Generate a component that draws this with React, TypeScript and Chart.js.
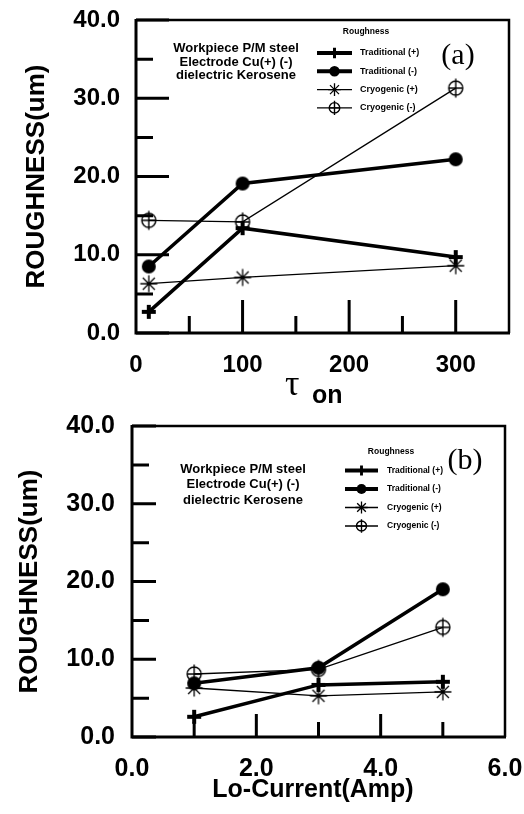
import React, { useEffect, useRef } from "react";
import { Chart, registerables } from "chart.js";

Chart.register(...registerables);

// ---------- data ----------
const seriesNames = ["Traditional (+)", "Traditional (-)", "Cryogenic (+)", "Cryogenic (-)"];
const legendTitle = "Roughness";
const noteLines = ["Workpiece P/M steel", "Electrode Cu(+) (-)", "dielectric Kerosene"];
const yTitle = "ROUGHNESS(um)";
const topXTitleMain = "τ";
const topXTitleSub = "on";
const bottomXTitle = "Lo-Current(Amp)";
const topTag = "(a)";
const bottomTag = "(b)";

const tauOn = [12, 100, 300];
const topTradPlus = [2.7, 13.4, 9.7];
const topTradMinus = [8.5, 19.1, 22.2];
const topCryoPlus = [6.3, 7.1, 8.6];
const topCryoMinus = [14.4, 14.2, 31.3];

const loCurrent = [1, 3, 5];
const botTradPlus = [2.6, 6.7, 7.1];
const botTradMinus = [6.9, 8.9, 19.0];
const botCryoPlus = [6.3, 5.3, 5.8];
const botCryoMinus = [8.1, 8.7, 14.1];

const yMajorTicks = [0, 10, 20, 30, 40];
const yMinorTicks = [5, 15, 25, 35];
const topXMajorTicks = [100, 200, 300];
const topXMinorTicks = [50, 150, 250];
const botXMajorTicks = [2, 4];
const botXMinorTicks = [1, 3, 5];

// ---------- styling helpers ----------
const SANS = "'Liberation Sans', Arial, sans-serif";
const SERIF = "'Liberation Serif', 'Times New Roman', serif";
type Kind = "plus" | "dot" | "star" | "oplus";
const kinds: Kind[] = ["plus", "dot", "star", "oplus"];
const lineWidths = [3.5, 3.5, 1.3, 1.3];

function drawMarker(ctx: CanvasRenderingContext2D, kind: Kind, x: number, y: number, s: number) {
  ctx.save();
  ctx.strokeStyle = "#000";
  ctx.fillStyle = "#000";
  ctx.lineCap = "butt";
  if (kind === "plus") {
    ctx.lineWidth = 4 * s;
    const a = 7 * s;
    ctx.beginPath();
    ctx.moveTo(x - a, y);
    ctx.lineTo(x + a, y);
    ctx.moveTo(x, y - a);
    ctx.lineTo(x, y + a);
    ctx.stroke();
  } else if (kind === "dot") {
    ctx.beginPath();
    ctx.arc(x, y, 7 * s, 0, Math.PI * 2);
    ctx.fill();
  } else if (kind === "star") {
    ctx.lineWidth = 1.3;
    const r = 8.5 * s;
    ctx.beginPath();
    for (let i = 0; i < 4; i++) {
      const ang = (i * Math.PI) / 4;
      const dx = Math.cos(ang) * r;
      const dy = Math.sin(ang) * r;
      ctx.moveTo(x - dx, y - dy);
      ctx.lineTo(x + dx, y + dy);
    }
    ctx.stroke();
  } else {
    ctx.lineWidth = 1.4;
    ctx.beginPath();
    ctx.arc(x, y, 7 * s, 0, Math.PI * 2);
    ctx.moveTo(x, y - 9.5 * s);
    ctx.lineTo(x, y + 9.5 * s);
    ctx.moveTo(x - 7 * s, y);
    ctx.lineTo(x + 7 * s, y);
    ctx.stroke();
  }
  ctx.restore();
}

function markerCanvas(kind: Kind) {
  const c = document.createElement("canvas");
  c.width = 24;
  c.height = 24;
  const ctx = c.getContext("2d")!;
  drawMarker(ctx, kind, 12, 12, 1);
  return c;
}

type Decor = {
  xMajor: number[];
  xMinor: number[];
  xMajorLen: number;
  xMinorLen: number;
  yMajorLen: number;
  yMinorLen: number;
  yTitleX: number;
  yTitleFont: number;
  note: { x: number; y: number; dy: number; font: number };
  legend: { titleX: number; titleY: number; titleFont: number; x0: number; x1: number; textX: number; y0: number; dy: number; font: number; ms: number };
  tag: { text: string; x: number; y: number; font: number };
  xTitle: (ctx: CanvasRenderingContext2D, chart: any) => void;
};

function makeDecor(d: Decor) {
  return {
    id: "decor",
    afterDraw(chart: any) {
      const ctx: CanvasRenderingContext2D = chart.ctx;
      const { left, right, top, bottom } = chart.chartArea;
      const xs = chart.scales.x;
      const ys = chart.scales.y;
      ctx.save();
      ctx.strokeStyle = "#000";
      ctx.fillStyle = "#000";
      // frame
      ctx.lineWidth = 2.5;
      ctx.beginPath();
      ctx.moveTo(left, top);
      ctx.lineTo(right, top);
      ctx.lineTo(right, bottom);
      ctx.stroke();
      ctx.lineWidth = 3;
      ctx.beginPath();
      ctx.moveTo(left, top - 1);
      ctx.lineTo(left, bottom);
      ctx.lineTo(right + 1, bottom);
      ctx.stroke();
      // inward ticks
      ctx.lineWidth = 3;
      ctx.beginPath();
      yMajorTicks.forEach((v) => {
        const p = ys.getPixelForValue(v);
        ctx.moveTo(left, p);
        ctx.lineTo(left + d.yMajorLen, p);
      });
      yMinorTicks.forEach((v) => {
        const p = ys.getPixelForValue(v);
        ctx.moveTo(left, p);
        ctx.lineTo(left + d.yMinorLen, p);
      });
      d.xMajor.forEach((v) => {
        const p = xs.getPixelForValue(v);
        ctx.moveTo(p, bottom);
        ctx.lineTo(p, bottom - d.xMajorLen);
      });
      d.xMinor.forEach((v) => {
        const p = xs.getPixelForValue(v);
        ctx.moveTo(p, bottom);
        ctx.lineTo(p, bottom - d.xMinorLen);
      });
      ctx.stroke();

      // y title
      ctx.save();
      ctx.translate(d.yTitleX, (top + bottom) / 2);
      ctx.rotate(-Math.PI / 2);
      ctx.font = `bold ${d.yTitleFont}px ${SANS}`;
      ctx.textAlign = "center";
      ctx.textBaseline = "middle";
      ctx.fillText(yTitle, 0, 0);
      ctx.restore();

      // x title
      d.xTitle(ctx, chart);

      // note
      ctx.font = `bold ${d.note.font}px ${SANS}`;
      ctx.textAlign = "center";
      ctx.textBaseline = "middle";
      noteLines.forEach((t, i) => ctx.fillText(t, d.note.x, d.note.y + i * d.note.dy));

      // legend
      const L = d.legend;
      ctx.font = `bold ${L.titleFont}px ${SANS}`;
      ctx.textAlign = "center";
      ctx.fillText(legendTitle, L.titleX, L.titleY);
      ctx.font = `bold ${L.font}px ${SANS}`;
      ctx.textAlign = "left";
      seriesNames.forEach((name, i) => {
        const y = L.y0 + i * L.dy;
        ctx.lineWidth = lineWidths[i] + (i < 2 ? 0.5 : 0);
        ctx.beginPath();
        ctx.moveTo(L.x0, y);
        ctx.lineTo(L.x1, y);
        ctx.stroke();
        drawMarker(ctx, kinds[i], (L.x0 + L.x1) / 2, y, L.ms);
        ctx.fillText(name, L.textX, y);
      });

      // tag
      ctx.font = `${d.tag.font}px ${SERIF}`;
      ctx.textAlign = "center";
      ctx.textBaseline = "middle";
      ctx.fillText(d.tag.text, d.tag.x, d.tag.y);
      ctx.restore();
    },
  };
}

function makeDatasets(xs: number[], series: number[][]) {
  return series.map((vals, i) => ({
    label: seriesNames[i],
    data: vals.map((v, j) => ({ x: xs[j], y: v })),
    borderColor: "#000",
    backgroundColor: "#000",
    borderWidth: lineWidths[i],
    pointStyle: markerCanvas(kinds[i]),
    pointRadius: 6,
    tension: 0,
    fill: false,
  }));
}

function scaleOpts(p: {
  xmin: number; xmax: number; xstep: number; xfmt: (v: number) => string; xPad: number; xFont: number; xHeight: number;
  yPad: number; yFont: number; yWidth: number;
}) {
  return {
    x: {
      type: "linear",
      min: p.xmin,
      max: p.xmax,
      grid: { display: false, drawTicks: false },
      border: { display: false },
      ticks: {
        stepSize: p.xstep,
        includeBounds: false,
        autoSkip: false,
        maxRotation: 0,
        padding: p.xPad,
        color: "#000",
        font: { family: SANS, size: p.xFont, weight: "bold" },
        callback: (v: any) => p.xfmt(Number(v)),
      },
      afterFit: (s: any) => {
        s.height = p.xHeight;
        s.paddingLeft = 0;
        s.paddingRight = 0;
      },
    },
    y: {
      type: "linear",
      min: 0,
      max: 40,
      grid: { display: false, drawTicks: false },
      border: { display: false },
      ticks: {
        stepSize: 10,
        autoSkip: false,
        padding: p.yPad,
        color: "#000",
        font: { family: SANS, size: p.yFont, weight: "bold" },
        callback: (v: any) => Number(v).toFixed(1),
      },
      afterFit: (s: any) => {
        s.width = p.yWidth;
        s.paddingTop = 0;
        s.paddingBottom = 0;
      },
    },
  };
}

const TOP_H = 410;
const BOT_H = 404;

function topConfig(): any {
  return {
    type: "line",
    data: { datasets: makeDatasets(tauOn, [topTradPlus, topTradMinus, topCryoPlus, topCryoMinus]) },
    options: {
      responsive: false,
      animation: false,
      events: [],
      layout: { padding: { left: 0, top: 20, right: 15, bottom: 0 } },
      plugins: { legend: { display: false }, tooltip: { enabled: false } },
      scales: scaleOpts({
        xmin: 0, xmax: 350, xstep: 100, xfmt: (v) => String(v), xPad: 18, xFont: 24, xHeight: TOP_H - 333,
        yPad: 16, yFont: 24, yWidth: 136,
      }),
    },
    plugins: [
      makeDecor({
        xMajor: topXMajorTicks,
        xMinor: topXMinorTicks,
        xMajorLen: 33,
        xMinorLen: 17,
        yMajorLen: 33,
        yMinorLen: 17,
        yTitleX: 37,
        yTitleFont: 26,
        note: { x: 236, y: 48.5, dy: 13.5, font: 13 },
        legend: { titleX: 366, titleY: 32, titleFont: 8.5, x0: 317, x1: 352, textX: 360, y0: 53, dy: 18.3, font: 9, ms: 0.75 },
        tag: { text: topTag, x: 458, y: 56, font: 30 },
        xTitle: (ctx) => {
          ctx.textAlign = "left";
          ctx.textBaseline = "alphabetic";
          ctx.font = `36px ${SERIF}`;
          ctx.fillText(topXTitleMain, 285, 395);
          ctx.font = `bold 25px ${SANS}`;
          ctx.fillText(topXTitleSub, 312, 403);
        },
      }),
    ],
  };
}

function bottomConfig(): any {
  return {
    type: "line",
    data: { datasets: makeDatasets(loCurrent, [botTradPlus, botTradMinus, botCryoPlus, botCryoMinus]) },
    options: {
      responsive: false,
      animation: false,
      events: [],
      layout: { padding: { left: 0, top: 16, right: 19, bottom: 0 } },
      plugins: { legend: { display: false }, tooltip: { enabled: false } },
      scales: scaleOpts({
        xmin: 0, xmax: 6, xstep: 2, xfmt: (v) => v.toFixed(1), xPad: 17, xFont: 25, xHeight: BOT_H - 327,
        yPad: 17, yFont: 25, yWidth: 132,
      }),
    },
    plugins: [
      makeDecor({
        xMajor: botXMajorTicks,
        xMinor: botXMinorTicks,
        xMajorLen: 23,
        xMinorLen: 15,
        yMajorLen: 24,
        yMinorLen: 17,
        yTitleX: 30,
        yTitleFont: 26,
        note: { x: 243, y: 59, dy: 15.5, font: 13 },
        legend: { titleX: 391, titleY: 42, titleFont: 8.5, x0: 345, x1: 378, textX: 387, y0: 60.5, dy: 18.5, font: 8.5, ms: 0.72 },
        tag: { text: bottomTag, x: 465, y: 51, font: 30 },
        xTitle: (ctx) => {
          ctx.textAlign = "center";
          ctx.textBaseline = "middle";
          ctx.font = `bold 25px ${SANS}`;
          ctx.fillText(bottomXTitle, 313, 380);
        },
      }),
    ],
  };
}

function ChartCanvas({ make, width, height }: { make: () => any; width: number; height: number }) {
  const ref = useRef<HTMLCanvasElement>(null);
  useEffect(() => {
    const chart = new Chart(ref.current as HTMLCanvasElement, make());
    return () => chart.destroy();
  }, [make]);
  return <canvas ref={ref} width={width} height={height} style={{ display: "block", width, height }} />;
}

export default function App() {
  return (
    <div style={{ position: "absolute", left: 0, top: 0, width: 524, height: 814, background: "#fff" }}>
      <ChartCanvas make={topConfig} width={524} height={TOP_H} />
      <ChartCanvas make={bottomConfig} width={524} height={BOT_H} />
    </div>
  );
}
